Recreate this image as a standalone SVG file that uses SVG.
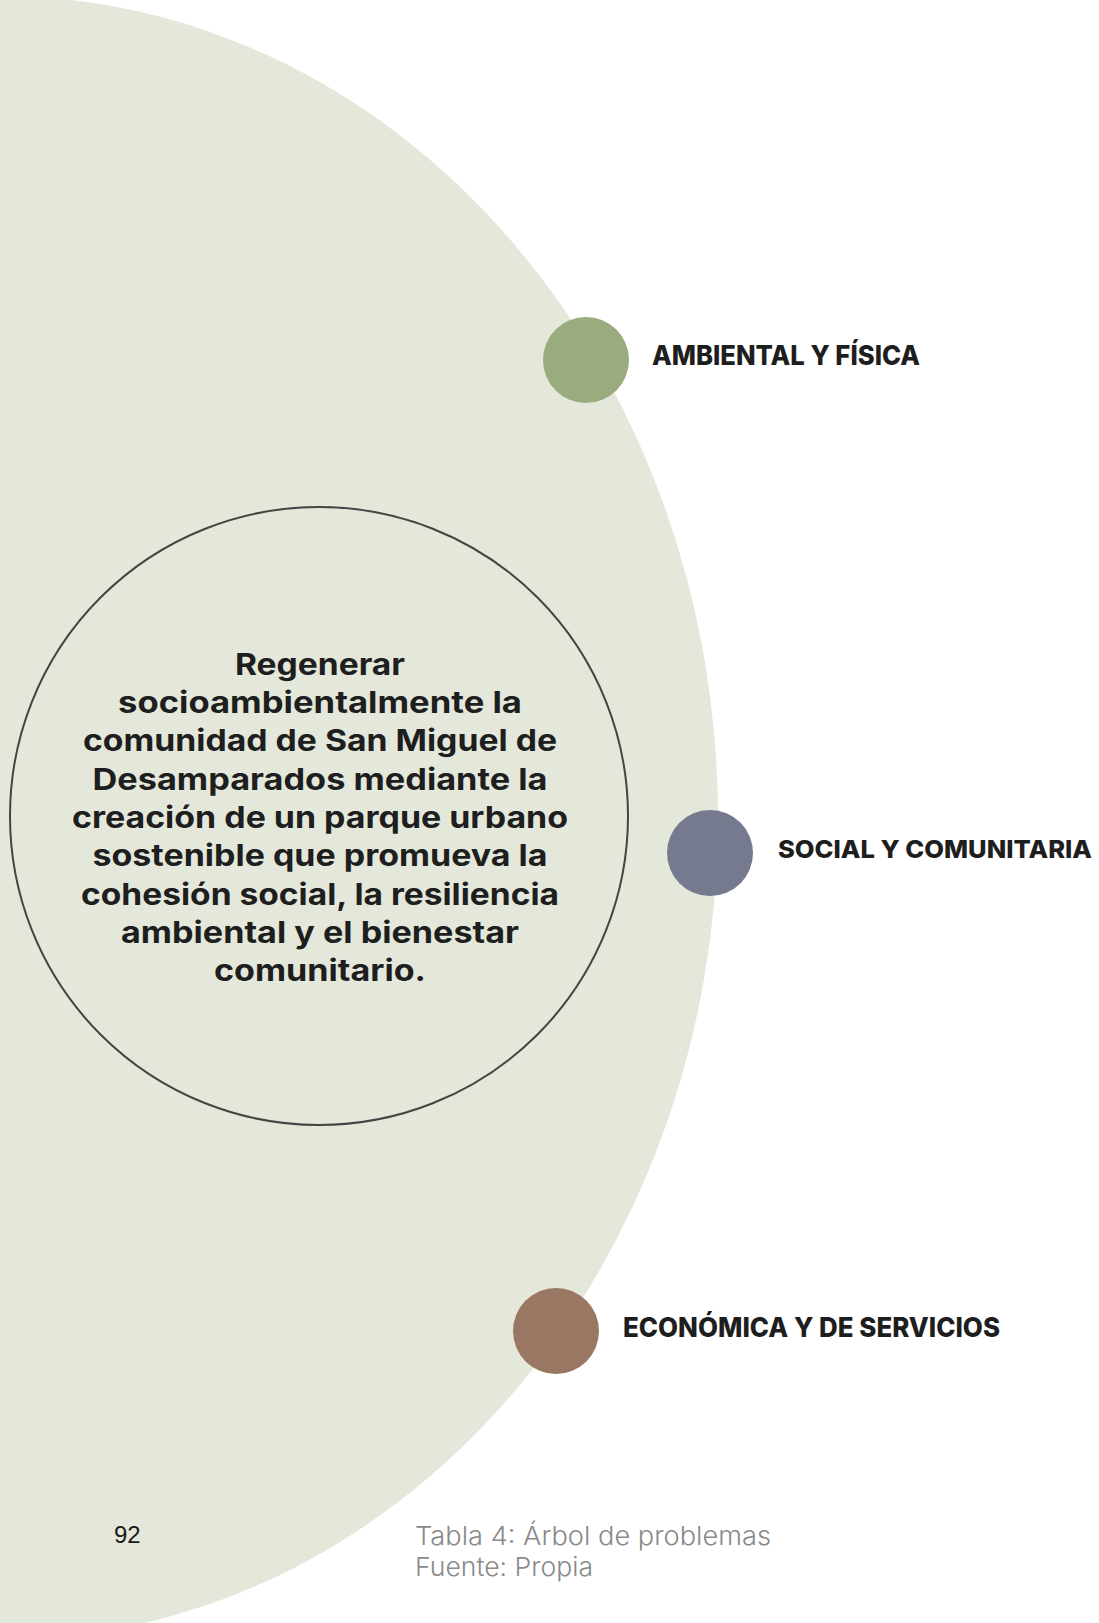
<svg xmlns="http://www.w3.org/2000/svg" width="1099" height="1623" viewBox="0 0 1099 1623">
<style>
.bold{font-family:Inter,"Noto Sans","Liberation Sans",sans-serif;font-weight:800;fill:#1e1e1e}
.lab{font-size:27px}
.goal{font-size:30px;text-anchor:middle;font-weight:700}
.cap{font-family:Inter,"Noto Sans","Liberation Sans",sans-serif;font-weight:300;font-size:26px;fill:#8a8a8a}
.dot{stroke:none}
</style>
<rect x="0" y="0" width="1099" height="1623" fill="#ffffff"/>
<g id="background">
<ellipse cx="0" cy="818" rx="718" ry="822" fill="#e4e8db"/>
</g>
<g id="connectors"></g>
<g id="goal">
<circle cx="319" cy="816" r="309" fill="none" stroke="#444444" stroke-width="2"/>
<text class="bold goal" x="320" y="675" textLength="170" lengthAdjust="spacingAndGlyphs">Regenerar</text>
<text class="bold goal" x="320" y="713" textLength="404" lengthAdjust="spacingAndGlyphs">socioambientalmente la</text>
<text class="bold goal" x="320" y="751" textLength="474" lengthAdjust="spacingAndGlyphs">comunidad de San Miguel de</text>
<text class="bold goal" x="320" y="790" textLength="455" lengthAdjust="spacingAndGlyphs">Desamparados mediante la</text>
<text class="bold goal" x="320" y="828" textLength="496" lengthAdjust="spacingAndGlyphs">creación de un parque urbano</text>
<text class="bold goal" x="320" y="866" textLength="455" lengthAdjust="spacingAndGlyphs">sostenible que promueva la</text>
<text class="bold goal" x="320" y="905" textLength="478" lengthAdjust="spacingAndGlyphs">cohesión social, la resiliencia</text>
<text class="bold goal" x="320" y="943" textLength="398" lengthAdjust="spacingAndGlyphs">ambiental y el bienestar</text>
<text class="bold goal" x="320" y="981" textLength="212" lengthAdjust="spacingAndGlyphs">comunitario.</text>
</g>
<g id="ambiental">
<circle class="dot" cx="586" cy="360" r="43" fill="#9aab7e"/>
<text class="bold lab" x="652" y="365" textLength="268" lengthAdjust="spacingAndGlyphs">AMBIENTAL Y FÍSICA</text>
</g>
<g id="social">
<circle class="dot" cx="710" cy="853" r="43" fill="#767a8e"/>
<text class="bold" x="778" y="858" font-size="25" textLength="314" lengthAdjust="spacingAndGlyphs">SOCIAL Y COMUNITARIA</text>
</g>
<g id="economica">
<circle class="dot" cx="556" cy="1331" r="43" fill="#9a7762"/>
<text class="bold lab" x="623" y="1337" textLength="377" lengthAdjust="spacingAndGlyphs">ECONÓMICA Y DE SERVICIOS</text>
</g>
<g id="footer">
<text x="114" y="1543" font-family="'Liberation Sans',Arial,sans-serif" font-size="24" fill="#1a1a1a">92</text>
<text class="cap" x="415" y="1545" textLength="356" lengthAdjust="spacingAndGlyphs">Tabla 4: Árbol de problemas</text>
<text class="cap" x="415" y="1576" textLength="178" lengthAdjust="spacingAndGlyphs">Fuente: Propia</text>
</g>
</svg>
